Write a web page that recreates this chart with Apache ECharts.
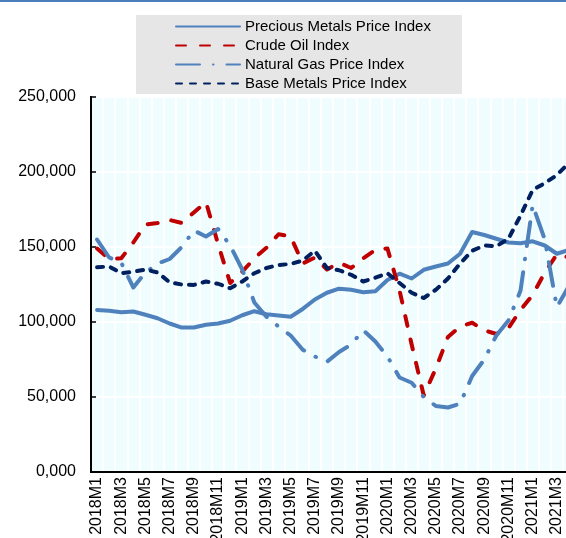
<!DOCTYPE html>
<html>
<head>
<meta charset="utf-8">
<title>Commodity price indices</title>
<script src="https://cdn.jsdelivr.net/npm/echarts/dist/echarts.min.js"></script>
<style>
  html, body { margin: 0; padding: 0; background: #fff; }
  #main { width: 566px; height: 538px; }
</style>
</head>
<body>
<div id="main"></div>
<script>
// monthly categories, 2018M1 .. 2021M4
const months = [
  '2018M1', '2018M2', '2018M3', '2018M4', '2018M5', '2018M6', '2018M7', '2018M8', '2018M9', '2018M10', '2018M11', '2018M12',
  '2019M1', '2019M2', '2019M3', '2019M4', '2019M5', '2019M6', '2019M7', '2019M8', '2019M9', '2019M10', '2019M11', '2019M12',
  '2020M1', '2020M2', '2020M3', '2020M4', '2020M5', '2020M6', '2020M7', '2020M8', '2020M9', '2020M10', '2020M11', '2020M12',
  '2021M1', '2021M2', '2021M3', '2021M4'
]

const preciousMetals = [
  108000, 107500, 106500, 107000, 104800, 102500, 99000, 96300, 96300, 98200, 99000, 100800,
  104500, 107200, 105200, 104400, 103500, 108700, 115000, 119500, 122200, 121500, 119800, 120500,
  128000, 132200, 129000, 134800, 137000, 139000, 145500, 160000, 158000, 155500, 153000, 152500,
  153800, 151000, 145500, 148000
]

const crudeOil = [
  149000, 142000, 142500, 153000, 165000, 166000, 168000, 166000, 173000, 180000, 152000, 126000,
  133500, 142500, 149500, 158500, 157000, 139000, 143000, 135000, 139500, 136000, 142500, 148000,
  149000, 121000, 85000, 51000, 69000, 90000, 97000, 99500, 94500, 92000, 96000, 108000,
  118000, 133000, 145000, 143000
]

const naturalGas = [
  155000, 143000, 139500, 123000, 133000, 139000, 142000, 150000, 161000, 157000, 162000, 151000,
  135000, 113000, 103500, 97000, 91000, 81500, 77000, 73500, 80000, 85000, 94500, 87000,
  77000, 63000, 59500, 50000, 44000, 43000, 45500, 64000, 75000, 91000, 101000, 121000,
  178000, 155000, 110000, 124000
]

const baseMetals = [
  136500, 137000, 132500, 133500, 135000, 133000, 126500, 125000, 124700, 127000, 125500, 122500,
  127000, 132500, 136000, 138000, 138700, 141000, 147500, 136000, 134500, 131500, 127000, 129500,
  132500, 126000, 119500, 116000, 121500, 129000, 139000, 147500, 151000, 150500, 155500, 171000,
  188000, 192500, 198000, 206000
]

const seriesNames = ['Precious Metals Price Index', 'Crude Oil Index', 'Natural Gas Price Index', 'Base Metals Price Index']

const font = 'Liberation Sans, Arial, sans-serif'
const bandWidth = 12.1

function fmt(v) {
  if (v === 0) return '0,000'
  return String(v).replace(/\B(?=(\d{3})+(?!\d))/g, ',')
}

function lineSeries(name, data, color, dash) {
  return {
    name: name,
    type: 'line',
    data: data,
    symbol: 'none',
    itemStyle: { color: color },
    lineStyle: { color: color, width: 4, type: dash, cap: 'round', join: 'round' }
  }
}

const chart = echarts.init(document.getElementById('main'))
chart.setOption({
  animation: false,
  backgroundColor: '#ffffff',
  graphic: [
    { type: 'rect', left: 0, top: 0, shape: { width: 566, height: 2 }, style: { fill: '#4a7ebb' } }
  ],
  legend: {
    orient: 'vertical',
    left: 136,
    top: 15,
    backgroundColor: '#e6e6e6',
    padding: [4, 31, 3, 39],
    itemWidth: 64,
    itemHeight: 14,
    itemGap: 4,
    itemStyle: { opacity: 0 },
    textStyle: { fontSize: 15, lineHeight: 13, fontFamily: font, color: '#000' },
    data: seriesNames
  },
  grid: {
    left: 91,
    top: 97,
    width: bandWidth * months.length,
    height: 375,
    outerBoundsMode: 'none',
    containLabel: false,
    show: true,
    backgroundColor: '#effdfe',
    borderColor: '#000',
    borderWidth: 2
  },
  xAxis: {
    type: 'category',
    data: months,
    boundaryGap: true,
    axisLine: { lineStyle: { color: '#000', width: 2 } },
    axisTick: { inside: true, length: 5, interval: 0, lineStyle: { color: '#000', width: 1.5 } },
    axisLabel: { interval: 1, rotate: 90, fontSize: 16, fontFamily: font, color: '#000', margin: 5 },
    splitLine: { show: true, interval: 0, lineStyle: { color: '#ffffff', width: 2 } }
  },
  yAxis: {
    type: 'value',
    min: 0,
    max: 250000,
    interval: 50000,
    axisLine: { show: true, lineStyle: { color: '#000', width: 2 } },
    axisTick: { show: true, inside: true, length: 5, lineStyle: { color: '#000', width: 1.5 } },
    axisLabel: { fontSize: 16, fontFamily: font, color: '#000', margin: 15, formatter: fmt },
    splitLine: { show: true, lineStyle: { color: '#ffffff', width: 2 } }
  },
  series: [
    lineSeries(seriesNames[0], preciousMetals, '#4f81bd', 'solid'),
    lineSeries(seriesNames[1], crudeOil, '#c00000', [10, 14]),
    lineSeries(seriesNames[2], naturalGas, '#4f81bd', [24, 13, 0.5, 13]),
    lineSeries(seriesNames[3], baseMetals, '#002060', [6, 8])
  ]
})
</script>
</body>
</html>
